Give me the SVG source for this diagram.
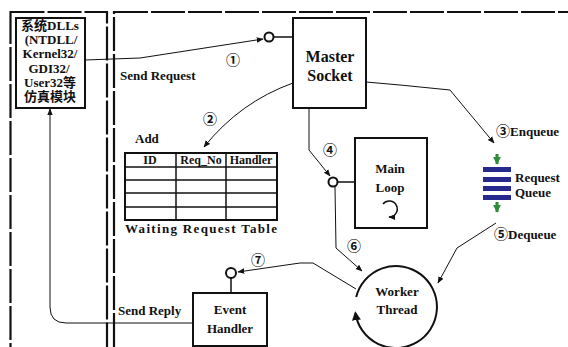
<svg xmlns="http://www.w3.org/2000/svg" width="568" height="347" viewBox="0 0 568 347">
<defs>
<marker id="ah" viewBox="0 0 10 10" refX="9" refY="5" markerWidth="7" markerHeight="7" orient="auto" markerUnits="userSpaceOnUse"><path d="M0,1 L10,5 L0,9 Z" fill="#111"/></marker>
<marker id="ahb" viewBox="0 0 10 10" refX="8" refY="5" markerWidth="9" markerHeight="9" orient="auto" markerUnits="userSpaceOnUse"><path d="M0,0 L10,5 L0,10 Z" fill="#111"/></marker>
<marker id="gdown" viewBox="0 0 10 10" refX="9" refY="5" markerWidth="8" markerHeight="8" orient="auto" markerUnits="userSpaceOnUse"><path d="M0,0 L10,5 L0,10 Z" fill="#2e8b3a"/></marker>
</defs>
<style>
text{font-family:'Liberation Serif','Times New Roman','DejaVu Serif',serif;font-weight:bold;fill:#111}
text.cjk{font-family:'Liberation Serif','Times New Roman','Noto Sans CJK SC',serif}
.frame{fill:none;stroke:#111;stroke-width:2.2;stroke-dasharray:34 3}
.box{fill:#fff;stroke:#111;stroke-width:2}
.ln{fill:none;stroke:#111;stroke-width:1}
.ln2{fill:none;stroke:#111;stroke-width:1.5}
.port{fill:#fff;stroke:#111;stroke-width:2}
.mid{text-anchor:middle}
.bar{fill:#262a8c}
.g{stroke:#2e8b3a;stroke-width:3;fill:none}
</style>
<rect width="568" height="347" fill="#fff"/>
<g id="frames">
<rect class="frame" x="10.5" y="12" width="96.5" height="345"/>
<rect class="frame" x="114" y="12" width="470" height="345"/>
</g>
<g id="connectors">
<path class="ln" d="M85,60 L140,58 L263,39" marker-end="url(#ah)"/>
<line class="ln2" x1="274" y1="37" x2="293" y2="37"/>
<path class="ln" d="M293,83 Q240,102 204,147" marker-end="url(#ah)"/>
<path class="ln" d="M309,108 L309,150 L330,176" marker-end="url(#ah)"/>
<line class="ln2" x1="337" y1="182" x2="355" y2="182"/>
<path class="ln" d="M335,187 L336,248 L362,271" marker-end="url(#ah)"/>
<path class="ln" d="M356,289 L313,263 L300,263 L238,272" marker-end="url(#ah)"/>
<line class="ln2" x1="231" y1="278" x2="231" y2="293"/>
<path class="ln" d="M193,323 L66,323 Q50,323 50,307 L50,109" marker-end="url(#ah)"/>
<path class="ln" d="M366,82 L400,85 L450,90 L494,143" marker-end="url(#ah)"/>
<path class="ln" d="M496,223 L457,248 L438,283" marker-end="url(#ah)"/>
</g>
<g id="syslib">
<rect class="box" x="16" y="18" width="69" height="90"/>
<text class="mid cjk" x="50" y="30" font-size="13">系统DLLs</text>
<text class="mid cjk" x="51" y="44" font-size="13">(NTDLL/</text>
<text class="mid cjk" x="50" y="58" font-size="13">Kernel32/</text>
<text class="mid cjk" x="49" y="73" font-size="13">GDI32/</text>
<text class="mid cjk" x="50" y="87" font-size="13">User32等</text>
<text class="mid cjk" x="50" y="101" font-size="13">仿真模块</text>
</g>
<g id="master">
<circle class="port" cx="269" cy="37" r="4.5"/>
<rect class="box" x="293" y="18" width="73" height="90"/>
<text class="mid" x="330" y="62" font-size="16">Master</text>
<text class="mid" x="330" y="81" font-size="16">Socket</text>
</g>
<g id="labels">
<text x="120" y="80" font-size="13">Send Request</text>
<text class="cjk" x="226" y="65" font-size="14">①</text>
<text class="cjk" x="203" y="124" font-size="14">②</text>
<text x="135" y="143" font-size="13">Add</text>
<text class="cjk" x="323" y="155" font-size="14">④</text>
<text class="cjk" x="347" y="251" font-size="14">⑥</text>
<text class="cjk" x="251" y="265" font-size="14">⑦</text>
<text x="118" y="315" font-size="13">Send Reply</text>
<text class="cjk" x="496" y="136" font-size="13"><tspan font-size="14">③</tspan>Enqueue</text>
<text class="cjk" x="494" y="239" font-size="13"><tspan font-size="14">⑤</tspan>Dequeue</text>
</g>
<g id="table">
<rect fill="#fff" stroke="#111" stroke-width="2" x="125" y="153" width="152" height="67"/>
<g class="ln2">
<line x1="125" y1="167" x2="277" y2="167"/>
<line x1="125" y1="180" x2="277" y2="180"/>
<line x1="125" y1="193" x2="277" y2="193"/>
<line x1="125" y1="207" x2="277" y2="207"/>
<line x1="176" y1="153" x2="176" y2="220"/>
<line x1="226" y1="153" x2="226" y2="220"/>
</g>
<text class="mid" x="150" y="164" font-size="12">ID</text>
<text class="mid" x="201" y="164" font-size="12">Req_No</text>
<text class="mid" x="251" y="164" font-size="12">Handler</text>
<text x="125" y="233" font-size="13" textLength="152" lengthAdjust="spacing">Waiting Request Table</text>
</g>
<g id="mainloop">
<circle class="port" cx="333" cy="182" r="4.5"/>
<rect class="box" x="355" y="138" width="72" height="90"/>
<text class="mid" x="390" y="173" font-size="13">Main</text>
<text class="mid" x="390" y="192" font-size="13">Loop</text>
<path class="ln2" d="M383,204 A8,8 0 1 1 389,217" marker-end="url(#ah)"/>
</g>
<g id="queue">
<line class="g" x1="497" y1="154" x2="497" y2="164" marker-end="url(#gdown)"/>
<rect class="bar" x="483" y="167" width="28" height="5"/>
<rect class="bar" x="483" y="177" width="28" height="5"/>
<rect class="bar" x="483" y="186" width="28" height="5"/>
<rect class="bar" x="483" y="195" width="28" height="5"/>
<line class="g" x1="497" y1="202" x2="497" y2="212" marker-end="url(#gdown)"/>
<text x="515" y="182" font-size="13">Request</text>
<text x="515" y="197" font-size="13">Queue</text>
</g>
<g id="worker">
<path fill="none" stroke="#111" stroke-width="2" d="M356.2,297 A41,41 0 1 1 355.4,313" marker-end="url(#ahb)"/>
<text class="mid" x="397" y="296" font-size="13">Worker</text>
<text class="mid" x="397" y="314" font-size="13">Thread</text>
</g>
<g id="eventhandler">
<circle class="port" cx="231" cy="273" r="5"/>
<rect class="box" x="193" y="293" width="74" height="53"/>
<text class="mid" x="230" y="314" font-size="13">Event</text>
<text class="mid" x="230" y="333" font-size="13">Handler</text>
</g>
</svg>
